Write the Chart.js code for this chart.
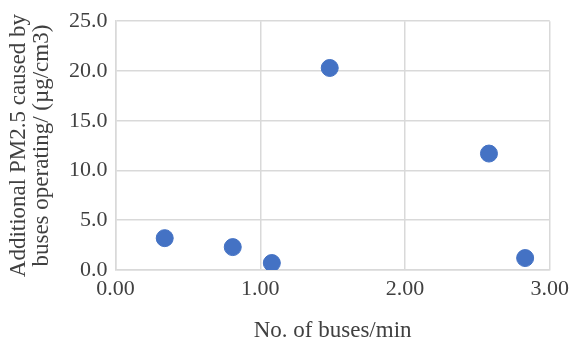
<!DOCTYPE html>
<html>
<head>
<meta charset="utf-8">
<script src="https://cdn.jsdelivr.net/npm/chart.js@4"></script>
<style>
  html, body { margin: 0; padding: 0; background: #fff; }
  #wrap { width: 577px; height: 338px; }
</style>
</head>
<body>
<div id="wrap"><canvas id="myChart" width="577" height="338"></canvas></div>
<script>
// values
var busesPerMin = [0.34, 0.81, 1.08, 1.48, 2.58, 2.83];
var extraPM25 = [3.2, 2.3, 0.7, 20.3, 11.7, 1.2];
var xTitle = 'No. of buses/min';
var yTitle = ['Additional PM2.5 caused by', 'buses operating/ (\u00b5g/cm3)'];

var points = busesPerMin.map(function (x, i) {
  return { x: x, y: extraPM25[i] };
});

var gridColor = '#d9d9d9';
var textColor = '#404040';
var serif = "'Liberation Serif', 'Times New Roman', serif";

const config = {
  type: 'scatter',
  data: {
    datasets: [{
      data: points,
      backgroundColor: '#4472c4',
      borderColor: '#4472c4',
      pointRadius: 8.5,
      pointHoverRadius: 8.5
    }]
  },
  options: {
    responsive: false,
    animation: false,
    layout: { padding: { left: 7, right: 0, top: 10, bottom: -4 } },
    plugins: { legend: { display: false }, tooltip: { enabled: false } },
    scales: {
      x: {
        type: 'linear',
        min: 0, max: 3,
        ticks: {
          stepSize: 1,
          color: textColor,
          font: { family: serif, size: 22, lineHeight: 1.0 },
          padding: 8,
          callback: function (v) { return v.toFixed(2); }
        },
        grid: { color: gridColor, lineWidth: 1.5, drawTicks: false },
        border: { color: gridColor, width: 1.5 },
        title: {
          display: true, text: xTitle, color: textColor,
          font: { family: serif, size: 23, lineHeight: 1.0 }, padding: { top: 11, bottom: 0 }
        }
      },
      y: {
        min: 0, max: 25,
        ticks: {
          stepSize: 5,
          color: textColor,
          font: { family: serif, size: 22 },
          padding: 8,
          callback: function (v) { return v.toFixed(1); }
        },
        grid: { color: gridColor, lineWidth: 1.5, drawTicks: false },
        border: { color: gridColor, width: 1.5 },
        title: {
          display: true, text: yTitle, color: textColor,
          font: { family: serif, size: 23, lineHeight: 1.0 }, padding: { top: 0, bottom: 8 }
        }
      }
    }
  }
};

const myChart = new Chart(document.getElementById('myChart'), config);
</script>
</body>
</html>
